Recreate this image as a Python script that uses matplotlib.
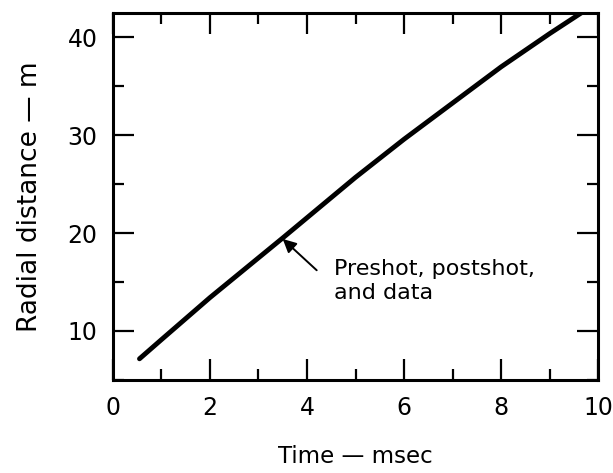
import matplotlib
matplotlib.use("Agg")
import matplotlib.pyplot as plt
from matplotlib.ticker import MultipleLocator

# curve
time_ms = [0.55, 1.0, 2.0, 3.5, 5.0, 6.0, 8.0, 9.0, 9.8]
radius_m = [7.15, 9.1, 13.4, 19.5, 25.7, 29.6, 37.0, 40.4, 43.0]

fig = plt.figure(figsize=(6.13, 4.73), dpi=100)
ax = fig.add_axes([0.184, 0.197, 0.792, 0.7755])

ax.plot(time_ms, radius_m, color="black", linewidth=3.5, solid_capstyle="round")

ax.set_xlim(0, 10)
ax.set_ylim(5, 42.5)
ax.xaxis.set_major_locator(MultipleLocator(2))
ax.xaxis.set_minor_locator(MultipleLocator(1))
ax.yaxis.set_major_locator(MultipleLocator(10))
ax.yaxis.set_minor_locator(MultipleLocator(5))

for s in ax.spines.values():
    s.set_linewidth(2.2)
ax.tick_params(which="both", direction="in", top=True, right=True, width=1.6,
               labelsize=17)
ax.tick_params(axis="x", pad=12)
ax.tick_params(axis="y", pad=11)
ax.tick_params(which="major", length=15)
ax.tick_params(which="minor", length=8)

ax.set_xlabel("Time — msec", fontsize=16.5, labelpad=18)
ax.set_ylabel("Radial distance — m", fontsize=19, labelpad=18)

ax.annotate("", xy=(3.5, 19.4), xytext=(4.2, 16.2),
            arrowprops=dict(arrowstyle="-|>", color="black", lw=1.4,
                            mutation_scale=20, shrinkA=0, shrinkB=0))
ax.text(4.55, 17.4, "Preshot, postshot,\nand data", fontsize=16,
        ha="left", va="top", linespacing=1.25)

fig.savefig("out.png", dpi=100)
